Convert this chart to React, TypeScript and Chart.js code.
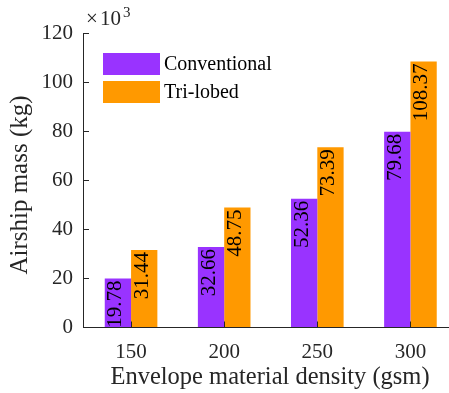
import React, { useEffect, useRef } from 'react';
import { Chart, registerables } from 'chart.js';

Chart.register(...registerables);

const categories = ['150', '200', '250', '300'];
const seriesNames = ['Conventional', 'Tri-lobed'];
const conventional = [19.78, 32.66, 52.36, 79.68];
const triLobed = [31.44, 48.75, 73.39, 108.37];
const conventionalLabels = ['19.78', '32.66', '52.36', '79.68'];
const triLobedLabels = ['31.44', '48.75', '73.39', '108.37'];
const yTicks = [0, 20, 40, 60, 80, 100, 120];
const xTitle = 'Envelope material density (gsm)';
const yTitle = 'Airship mass (kg)';

const PURPLE = '#9933FF';
const ORANGE = '#FF9900';
const AXIS = '#262626';
const FONT = '"Liberation Serif"';
const CANVAS_W = 470;
const CANVAS_H = 393;
const AXIS_X = 83;

const decorPlugin = {
  id: 'decor',
  afterDraw(chart: any) {
    const ctx = chart.ctx as CanvasRenderingContext2D;
    const area = chart.chartArea;
    const xs = chart.scales.x;
    const ys = chart.scales.y;
    ctx.save();

    // axis lines
    ctx.strokeStyle = AXIS;
    ctx.lineWidth = 1;
    const bottom = Math.round(area.bottom) + 0.5;
    ctx.beginPath();
    ctx.moveTo(AXIS_X + 0.5, area.top);
    ctx.lineTo(AXIS_X + 0.5, bottom);
    ctx.lineTo(chart.width, bottom);
    ctx.stroke();

    // inward ticks
    ctx.beginPath();
    yTicks.forEach((v) => {
      const py = Math.round(ys.getPixelForValue(v)) + 0.5;
      ctx.moveTo(AXIS_X, py);
      ctx.lineTo(AXIS_X + 6, py);
    });
    categories.forEach((_, i) => {
      const px = Math.round(xs.getPixelForValue(i)) + 0.5;
      ctx.moveTo(px, bottom);
      ctx.lineTo(px, bottom - 6);
    });
    ctx.stroke();

    // value labels
    const labelSets = [conventionalLabels, triLobedLabels];
    ctx.font = `21px ${FONT}`;
    ctx.fillStyle = '#000';
    ctx.textAlign = 'right';
    ctx.textBaseline = 'middle';
    chart.data.datasets.forEach((_: any, di: number) => {
      const meta = chart.getDatasetMeta(di);
      meta.data.forEach((bar: any, i: number) => {
        ctx.save();
        ctx.translate(bar.x - 2, bar.y + 2);
        ctx.rotate(-Math.PI / 2);
        ctx.fillText(labelSets[di][i], 0, 0);
        ctx.restore();
      });
    });

    // axis titles
    ctx.fillStyle = AXIS;
    ctx.textBaseline = 'alphabetic';
    ctx.textAlign = 'center';
    ctx.font = `24.5px ${FONT}`;
    ctx.fillText(xTitle, 270, 384);
    ctx.save();
    ctx.translate(27, 185);
    ctx.rotate(-Math.PI / 2);
    ctx.font = `25px ${FONT}`;
    ctx.fillText(yTitle, 0, 0);
    ctx.restore();

    // x10^3 multiplier
    ctx.textAlign = 'left';
    ctx.font = `21px ${FONT}`;
    ctx.fillText('\u00d7', 86, 25);
    ctx.fillText('10', 100, 25);
    ctx.font = `15px ${FONT}`;
    ctx.fillText('3', 123, 17);

    // legend
    const colors = [PURPLE, ORANGE];
    ctx.font = `20px ${FONT}`;
    ctx.textBaseline = 'middle';
    seriesNames.forEach((name, i) => {
      const top = 53 + i * 28;
      ctx.fillStyle = colors[i];
      ctx.fillRect(103, top, 57, 22);
      ctx.fillStyle = '#000';
      ctx.fillText(name, 164, top + 11.5);
    });

    ctx.restore();
  },
};

export default function App() {
  const ref = useRef<HTMLCanvasElement | null>(null);

  useEffect(() => {
    if (!ref.current) return;
    const chart = new Chart(ref.current, {
      type: 'bar',
      data: {
        labels: categories,
        datasets: [
          {
            label: seriesNames[0],
            data: conventional,
            backgroundColor: PURPLE,
            borderWidth: 0,
            categoryPercentage: 0.565,
            barPercentage: 1,
          },
          {
            label: seriesNames[1],
            data: triLobed,
            backgroundColor: ORANGE,
            borderWidth: 0,
            categoryPercentage: 0.565,
            barPercentage: 1,
          },
        ],
      },
      options: {
        responsive: false,
        animation: false,
        events: [],
        layout: { padding: { left: 0, right: 13, top: 33, bottom: 0 } },
        plugins: {
          legend: { display: false },
          tooltip: { enabled: false },
        },
        scales: {
          x: {
            afterFit: (s: any) => {
              s.height = 66;
            },
            grid: { display: false, drawTicks: false },
            border: { display: false },
            ticks: {
              color: AXIS,
              font: { family: FONT, size: 21 },
              padding: 13,
              maxRotation: 0,
            },
            title: { display: false, text: xTitle },
          },
          y: {
            min: 0,
            max: 120,
            afterFit: (s: any) => {
              s.width = 84.5;
            },
            grid: { display: false, drawTicks: false },
            border: { display: false },
            ticks: {
              stepSize: 20,
              color: AXIS,
              font: { family: FONT, size: 21 },
              padding: 11.5,
            },
            title: { display: false, text: yTitle },
          },
        },
      },
      plugins: [decorPlugin],
    });
    return () => chart.destroy();
  }, []);

  return (
    <div
      style={{
        position: 'fixed',
        left: 0,
        top: 0,
        width: 449,
        height: 393,
        overflow: 'hidden',
        background: '#fff',
      }}
    >
      <canvas
        ref={ref}
        width={CANVAS_W}
        height={CANVAS_H}
        style={{ display: 'block', width: CANVAS_W, height: CANVAS_H }}
      />
    </div>
  );
}
